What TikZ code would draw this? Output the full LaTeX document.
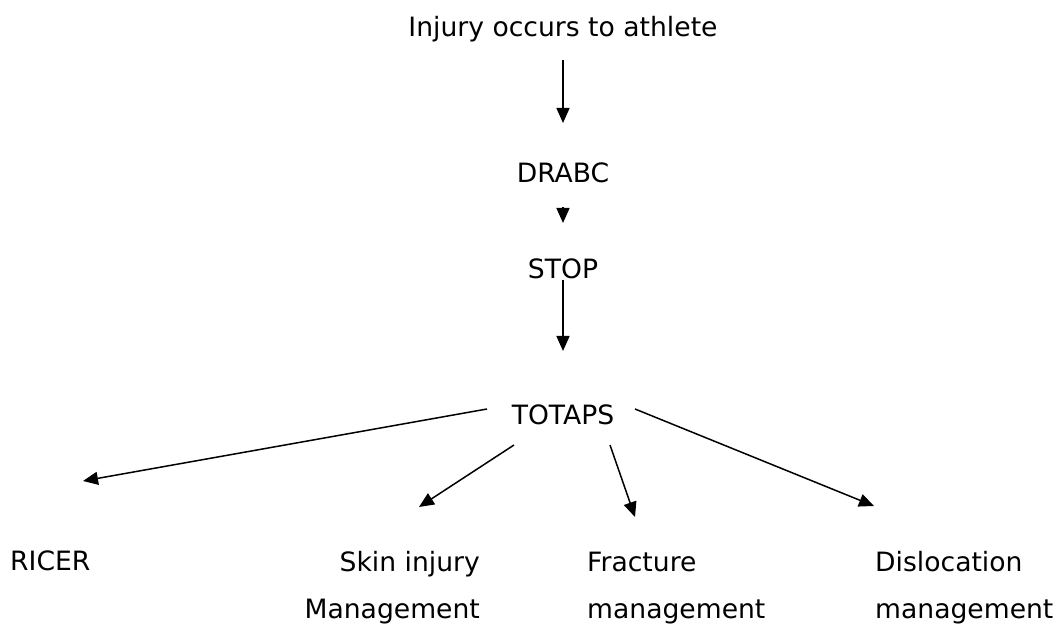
\documentclass[tikz,border=0pt]{standalone}
\usepackage{fontspec}
\setmainfont{DejaVu Sans}
\usetikzlibrary{arrows.meta}
\begin{document}
\begin{tikzpicture}[x=1pt,y=1pt,
  lbl/.style={inner sep=0pt, font=\fontsize{26.6pt}{47pt}\selectfont},
  conn/.style={line width=1.5pt, -{Triangle[length=15pt,width=13pt]}}]
\useasboundingbox (0,0) rectangle (1056,623);
\node[lbl, anchor=base] (injury) at (563,586) {Injury occurs to athlete};
\node[lbl, anchor=base] (drabc) at (563,440) {DRABC};
\node[lbl, anchor=base] (stop) at (563,344) {STOP};
\node[lbl, anchor=base] (totaps) at (563,198) {TOTAPS};
\node[lbl, anchor=base west] (ricer) at (10,52) {RICER};
\node[lbl, anchor=base east, align=right] (skin) at (480,5) {Skin injury\\Management};
\node[lbl, anchor=base west, align=left] (fracture) at (587,5) {Fracture\\management};
\node[lbl, anchor=base west, align=left] (disloc) at (875,5) {Dislocation\\management};
\coordinate (a1s) at (563,563); \coordinate (a1e) at (563,500);
\coordinate (a2s) at (563,416); \coordinate (a2e) at (563,400);
\coordinate (a3s) at (563,343); \coordinate (a3e) at (563,272);
\coordinate (a4s) at (487,214); \coordinate (a4e) at (83,142);
\coordinate (a5s) at (514,178); \coordinate (a5e) at (419,116);
\coordinate (a6s) at (610,178); \coordinate (a6e) at (635,106);
\coordinate (a7s) at (635,214); \coordinate (a7e) at (874,117);
\draw[conn] (a1s) -- (a1e);
\draw[conn] (a2s) -- (a2e);
\draw[conn] (a3s) -- (a3e);
\draw[conn] (a4s) -- (a4e);
\draw[conn] (a5s) -- (a5e);
\draw[conn] (a6s) -- (a6e);
\draw[conn] (a7s) -- (a7e);
\end{tikzpicture}
\end{document}
